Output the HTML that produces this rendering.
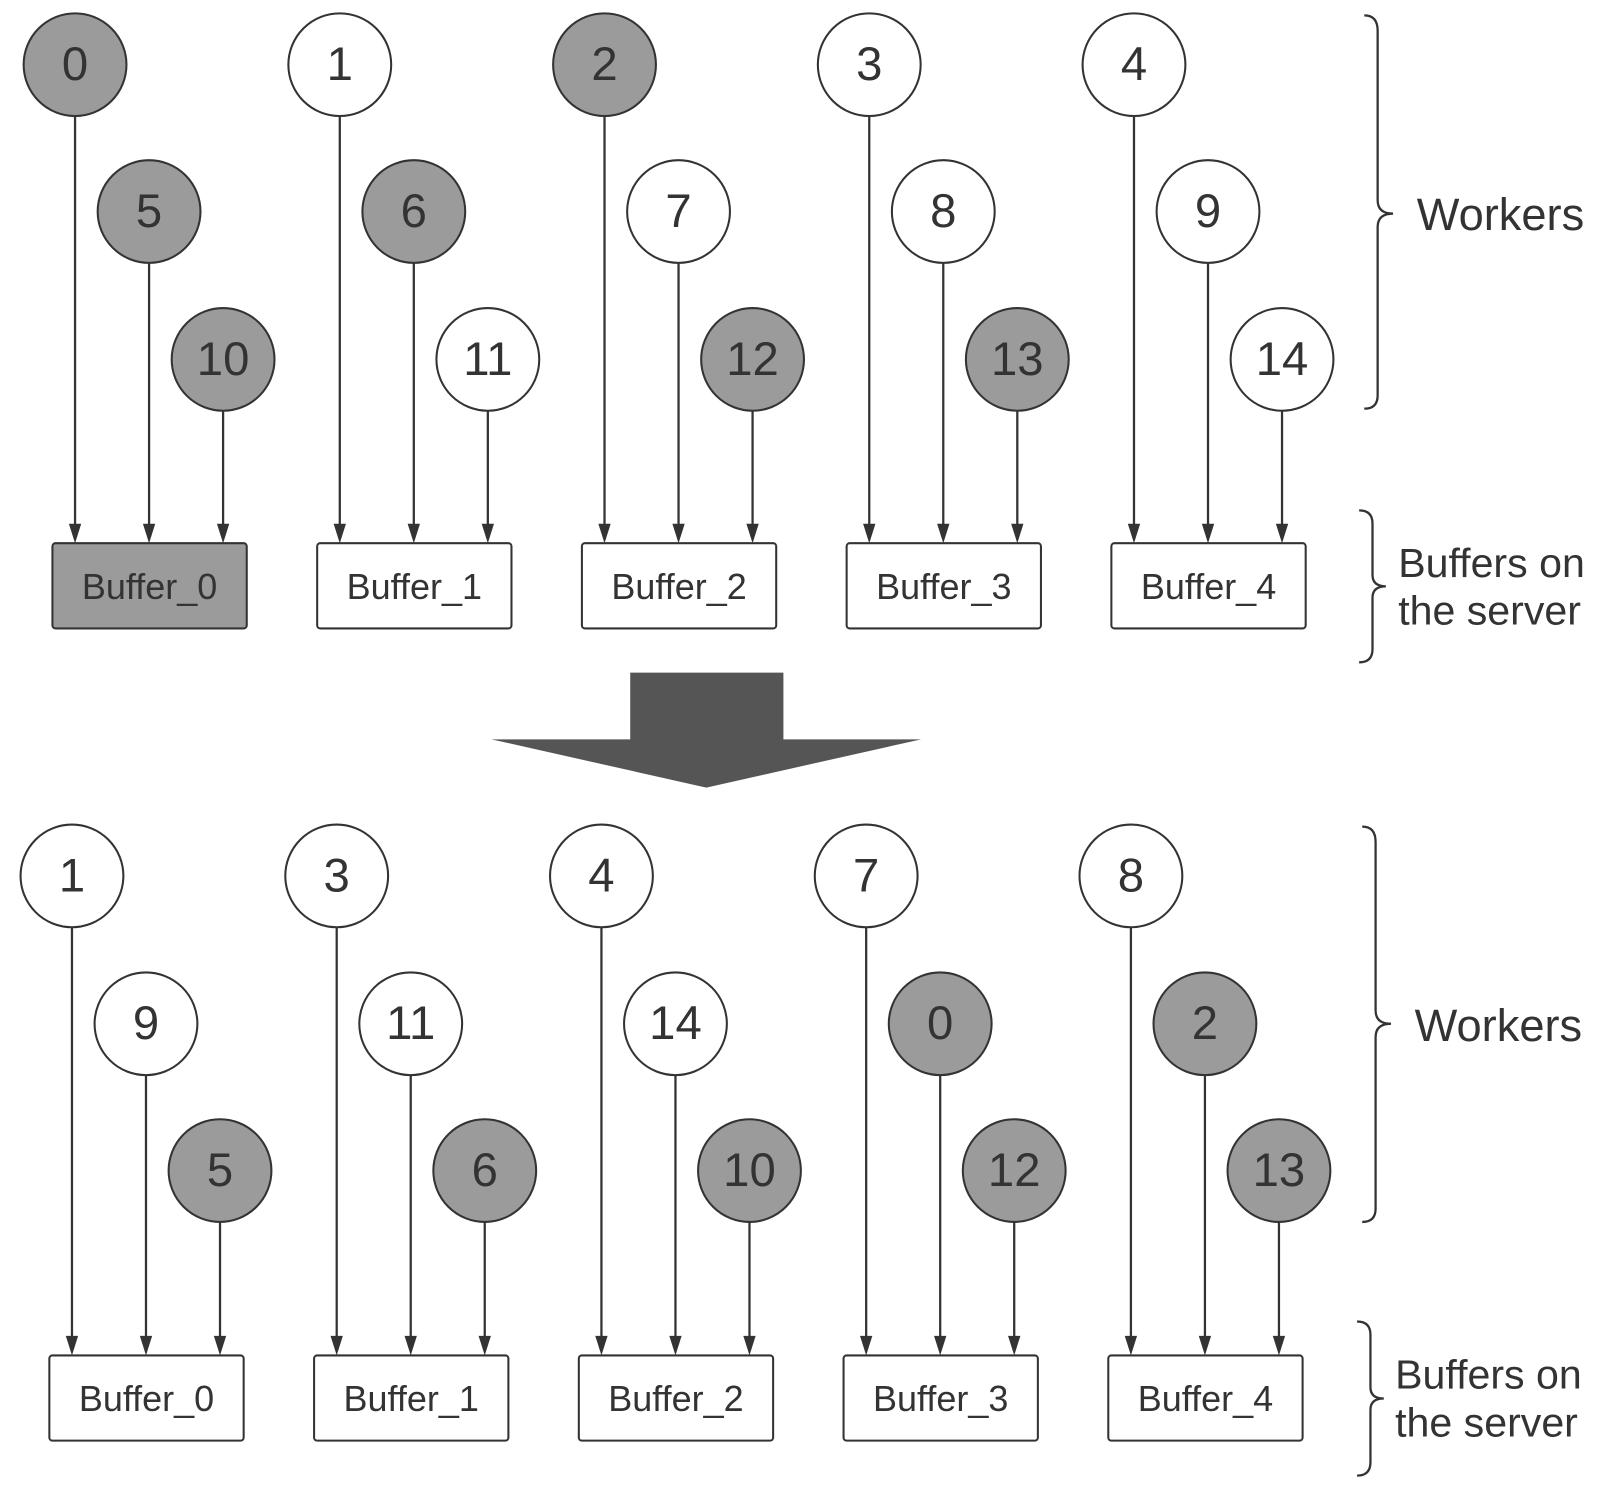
<!DOCTYPE html>
<html><head><meta charset="utf-8"><style>
html,body{margin:0;padding:0;background:#fff;}
svg{display:block;}
text{font-family:"Liberation Sans",sans-serif;fill:#333;}
.c{stroke:#333;stroke-width:2;}
.w{fill:#fff;}
.g{fill:#9b9b9b;}
.n{font-size:46px;text-anchor:middle;dominant-baseline:central;}
.b{font-size:35px;text-anchor:middle;dominant-baseline:central;}
.l{stroke:#333;stroke-width:2.2;}
.h{fill:#333;}
.br{fill:none;stroke:#333;stroke-width:2.2;}
.t{font-size:44px;}
.t2{font-size:40px;}
</style></head><body>
<svg width="1610" height="1492" viewBox="0 0 1566 1453" preserveAspectRatio="none" xmlns="http://www.w3.org/2000/svg">
<g id="top">
<g class="l">
<line x1="73" y1="113" x2="73" y2="512"/><line x1="145" y1="256" x2="145" y2="512"/><line x1="217" y1="400" x2="217" y2="512"/>
<line x1="330.5" y1="113" x2="330.5" y2="512"/><line x1="402.5" y1="256" x2="402.5" y2="512"/><line x1="474.5" y1="400" x2="474.5" y2="512"/>
<line x1="588" y1="113" x2="588" y2="512"/><line x1="660" y1="256" x2="660" y2="512"/><line x1="732" y1="400" x2="732" y2="512"/>
<line x1="845.5" y1="113" x2="845.5" y2="512"/><line x1="917.5" y1="256" x2="917.5" y2="512"/><line x1="989.5" y1="400" x2="989.5" y2="512"/>
<line x1="1103" y1="113" x2="1103" y2="512"/><line x1="1175" y1="256" x2="1175" y2="512"/><line x1="1247" y1="400" x2="1247" y2="512"/>
</g>
<g class="h">
<path d="M67,510 L79,510 L73,529 Z"/><path d="M139,510 L151,510 L145,529 Z"/><path d="M211,510 L223,510 L217,529 Z"/>
<path d="M324.5,510 L336.5,510 L330.5,529 Z"/><path d="M396.5,510 L408.5,510 L402.5,529 Z"/><path d="M468.5,510 L480.5,510 L474.5,529 Z"/>
<path d="M582,510 L594,510 L588,529 Z"/><path d="M654,510 L666,510 L660,529 Z"/><path d="M726,510 L738,510 L732,529 Z"/>
<path d="M839.5,510 L851.5,510 L845.5,529 Z"/><path d="M911.5,510 L923.5,510 L917.5,529 Z"/><path d="M983.5,510 L995.5,510 L989.5,529 Z"/>
<path d="M1097,510 L1109,510 L1103,529 Z"/><path d="M1169,510 L1181,510 L1175,529 Z"/><path d="M1241,510 L1253,510 L1247,529 Z"/>
</g>
<circle class="c g" cx="73" cy="63" r="50"/><text class="n" x="73" y="63">0</text>
<circle class="c g" cx="145" cy="206" r="50"/><text class="n" x="145" y="206">5</text>
<circle class="c g" cx="217" cy="350" r="50"/><text class="n" x="217" y="350">10</text>
<circle class="c w" cx="330.5" cy="63" r="50"/><text class="n" x="330.5" y="63">1</text>
<circle class="c g" cx="402.5" cy="206" r="50"/><text class="n" x="402.5" y="206">6</text>
<circle class="c w" cx="474.5" cy="350" r="50"/><text class="n" x="474.5" y="350">11</text>
<circle class="c g" cx="588" cy="63" r="50"/><text class="n" x="588" y="63">2</text>
<circle class="c w" cx="660" cy="206" r="50"/><text class="n" x="660" y="206">7</text>
<circle class="c g" cx="732" cy="350" r="50"/><text class="n" x="732" y="350">12</text>
<circle class="c w" cx="845.5" cy="63" r="50"/><text class="n" x="845.5" y="63">3</text>
<circle class="c w" cx="917.5" cy="206" r="50"/><text class="n" x="917.5" y="206">8</text>
<circle class="c g" cx="989.5" cy="350" r="50"/><text class="n" x="989.5" y="350">13</text>
<circle class="c w" cx="1103" cy="63" r="50"/><text class="n" x="1103" y="63">4</text>
<circle class="c w" cx="1175" cy="206" r="50"/><text class="n" x="1175" y="206">9</text>
<circle class="c w" cx="1247" cy="350" r="50"/><text class="n" x="1247" y="350">14</text>
<rect class="c g" x="51" y="529" width="189" height="83" rx="3"/><text class="b" x="145.5" y="571">Buffer_0</text>
<rect class="c w" x="308.5" y="529" width="189" height="83" rx="3"/><text class="b" x="403" y="571">Buffer_1</text>
<rect class="c w" x="566" y="529" width="189" height="83" rx="3"/><text class="b" x="660.5" y="571">Buffer_2</text>
<rect class="c w" x="823.5" y="529" width="189" height="83" rx="3"/><text class="b" x="918" y="571">Buffer_3</text>
<rect class="c w" x="1081" y="529" width="189" height="83" rx="3"/><text class="b" x="1175.5" y="571">Buffer_4</text>
<path class="br" d="M1327,15 Q1340,15 1340,30 L1340,195 Q1340,208 1355,208 Q1340,208 1340,221 L1340,385 Q1340,398 1327,398"/>
<text class="t" x="1378" y="224">Workers</text>
<path class="br" d="M1322,497 Q1335,497 1335,510 L1335,560 Q1335,571 1348,571 Q1335,571 1335,582 L1335,632 Q1335,645 1322,645"/>
<text class="t2" x="1360" y="562">Buffers on</text>
<text class="t2" x="1360" y="608">the server</text>
</g>
<path d="M613,655 L762,655 L762,720 L896,720 L687,767 L478,720 L613,720 Z" fill="#555"/>
<g id="bot">
<g class="l">
<line x1="70" y1="903" x2="70" y2="1303"/><line x1="142" y1="1047" x2="142" y2="1303"/><line x1="214" y1="1190" x2="214" y2="1303"/>
<line x1="327.5" y1="903" x2="327.5" y2="1303"/><line x1="399.5" y1="1047" x2="399.5" y2="1303"/><line x1="471.5" y1="1190" x2="471.5" y2="1303"/>
<line x1="585" y1="903" x2="585" y2="1303"/><line x1="657" y1="1047" x2="657" y2="1303"/><line x1="729" y1="1190" x2="729" y2="1303"/>
<line x1="842.5" y1="903" x2="842.5" y2="1303"/><line x1="914.5" y1="1047" x2="914.5" y2="1303"/><line x1="986.5" y1="1190" x2="986.5" y2="1303"/>
<line x1="1100" y1="903" x2="1100" y2="1303"/><line x1="1172" y1="1047" x2="1172" y2="1303"/><line x1="1244" y1="1190" x2="1244" y2="1303"/>
</g>
<g class="h">
<path d="M64,1301 L76,1301 L70,1320 Z"/><path d="M136,1301 L148,1301 L142,1320 Z"/><path d="M208,1301 L220,1301 L214,1320 Z"/>
<path d="M321.5,1301 L333.5,1301 L327.5,1320 Z"/><path d="M393.5,1301 L405.5,1301 L399.5,1320 Z"/><path d="M465.5,1301 L477.5,1301 L471.5,1320 Z"/>
<path d="M579,1301 L591,1301 L585,1320 Z"/><path d="M651,1301 L663,1301 L657,1320 Z"/><path d="M723,1301 L735,1301 L729,1320 Z"/>
<path d="M836.5,1301 L848.5,1301 L842.5,1320 Z"/><path d="M908.5,1301 L920.5,1301 L914.5,1320 Z"/><path d="M980.5,1301 L992.5,1301 L986.5,1320 Z"/>
<path d="M1094,1301 L1106,1301 L1100,1320 Z"/><path d="M1166,1301 L1178,1301 L1172,1320 Z"/><path d="M1238,1301 L1250,1301 L1244,1320 Z"/>
</g>
<circle class="c w" cx="70" cy="853" r="50"/><text class="n" x="70" y="853">1</text>
<circle class="c w" cx="142" cy="997" r="50"/><text class="n" x="142" y="997">9</text>
<circle class="c g" cx="214" cy="1140" r="50"/><text class="n" x="214" y="1140">5</text>
<circle class="c w" cx="327.5" cy="853" r="50"/><text class="n" x="327.5" y="853">3</text>
<circle class="c w" cx="399.5" cy="997" r="50"/><text class="n" x="399.5" y="997">11</text>
<circle class="c g" cx="471.5" cy="1140" r="50"/><text class="n" x="471.5" y="1140">6</text>
<circle class="c w" cx="585" cy="853" r="50"/><text class="n" x="585" y="853">4</text>
<circle class="c w" cx="657" cy="997" r="50"/><text class="n" x="657" y="997">14</text>
<circle class="c g" cx="729" cy="1140" r="50"/><text class="n" x="729" y="1140">10</text>
<circle class="c w" cx="842.5" cy="853" r="50"/><text class="n" x="842.5" y="853">7</text>
<circle class="c g" cx="914.5" cy="997" r="50"/><text class="n" x="914.5" y="997">0</text>
<circle class="c g" cx="986.5" cy="1140" r="50"/><text class="n" x="986.5" y="1140">12</text>
<circle class="c w" cx="1100" cy="853" r="50"/><text class="n" x="1100" y="853">8</text>
<circle class="c g" cx="1172" cy="997" r="50"/><text class="n" x="1172" y="997">2</text>
<circle class="c g" cx="1244" cy="1140" r="50"/><text class="n" x="1244" y="1140">13</text>
<rect class="c w" x="48" y="1320" width="189" height="83" rx="3"/><text class="b" x="142.5" y="1362">Buffer_0</text>
<rect class="c w" x="305.5" y="1320" width="189" height="83" rx="3"/><text class="b" x="400" y="1362">Buffer_1</text>
<rect class="c w" x="563" y="1320" width="189" height="83" rx="3"/><text class="b" x="657.5" y="1362">Buffer_2</text>
<rect class="c w" x="820.5" y="1320" width="189" height="83" rx="3"/><text class="b" x="915" y="1362">Buffer_3</text>
<rect class="c w" x="1078" y="1320" width="189" height="83" rx="3"/><text class="b" x="1172.5" y="1362">Buffer_4</text>
<path class="br" d="M1325,805 Q1338,805 1338,820 L1338,984 Q1338,997 1353,997 Q1338,997 1338,1010 L1338,1177 Q1338,1190 1325,1190"/>
<text class="t" x="1376" y="1014">Workers</text>
<path class="br" d="M1320,1287 Q1333,1287 1333,1300 L1333,1351 Q1333,1362 1346,1362 Q1333,1362 1333,1373 L1333,1424 Q1333,1437 1320,1437"/>
<text class="t2" x="1357" y="1352">Buffers on</text>
<text class="t2" x="1357" y="1399">the server</text>
</g>
</svg>
</body></html>
